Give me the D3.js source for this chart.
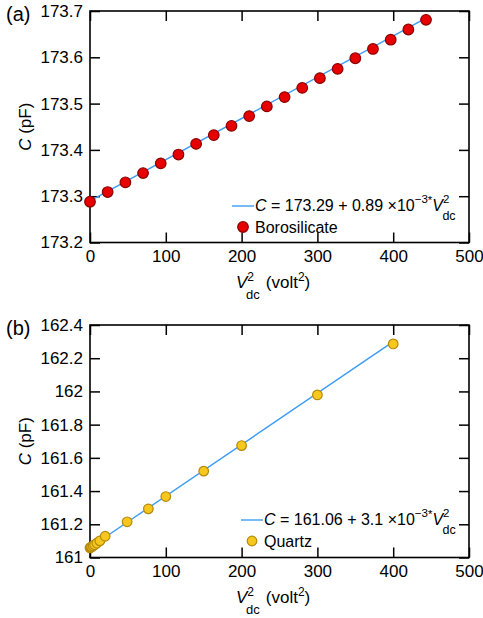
<!DOCTYPE html>
<html>
<head>
<meta charset="utf-8">
<script src="https://cdn.jsdelivr.net/npm/d3@7"></script>
<style>
  body { margin: 0; background: #fff; }
  svg { display: block; font-family: "Liberation Sans", Arial, Helvetica, sans-serif; }
</style>
</head>
<body>
<script>
'use strict';

// panel (a): borosilicate
const boroV2 = [0, 23.3, 46.7, 70, 93.3, 116.7, 140, 163.3, 186.7, 210, 233.3, 256.7,
  280, 303.3, 326.7, 350, 373.3, 396.7, 420, 443.3];
const boroC = [173.288, 173.309, 173.330, 173.350, 173.371, 173.390, 173.413, 173.432,
  173.452, 173.473, 173.494, 173.514, 173.534, 173.555, 173.575, 173.598, 173.618,
  173.638, 173.660, 173.681];
const boroFit = { a: 173.29, b: 0.89e-3, xMax: 445 };
const boroYTicks = [173.2, 173.3, 173.4, 173.5, 173.6, 173.7];

// panel (b): quartz
const quartzV2 = [0, 1, 2, 4, 6, 9, 13, 20, 49, 77, 100, 150, 200, 300, 400];
const quartzC = [161.058, 161.061, 161.064, 161.070, 161.077, 161.086, 161.100, 161.128,
  161.215, 161.293, 161.367, 161.520, 161.674, 161.979, 162.286];
const quartzFit = { a: 161.06, b: 3.1e-3, xMax: 402 };
const quartzYTicks = [161, 161.2, 161.4, 161.6, 161.8, 162, 162.2, 162.4];

const xTicks = [0, 100, 200, 300, 400, 500];

const svg = d3.select('body').append('svg')
  .attr('width', 483)
  .attr('height', 618);

drawPanel({
  letter: '(a)', top: 11, bottom: 242.5,
  yDomain: [173.2, 173.7], yTicks: boroYTicks,
  xs: boroV2, ys: boroC, fit: boroFit,
  fill: '#e60000', stroke: '#8a0000', r: 5.3,
  eq: '173.29 + 0.89', name: 'Borosilicate',
  legX: 232, legY: 206
});

drawPanel({
  letter: '(b)', top: 325, bottom: 557.5,
  yDomain: [161, 162.4], yTicks: quartzYTicks,
  xs: quartzV2, ys: quartzC, fit: quartzFit,
  fill: '#f6c81e', stroke: '#b58a0a', r: 4.8,
  eq: '161.06 + 3.1', name: 'Quartz',
  legX: 241, legY: 520
});

function drawPanel(p) {
  const left = 90, right = 469;

  let x = d3.scaleLinear().domain([0, 500]).range([left, right]);
  let y = d3.scaleLinear().domain(p.yDomain).range([p.bottom, p.top]);

  let g = svg.append('g');

  // axes with inward ticks on all four sides
  g.append('g')
    .attr('transform', 'translate(0,' + p.bottom + ')')
    .call(d3.axisBottom(x).tickValues(xTicks).tickSizeInner(-10).tickSizeOuter(0).tickPadding(7));
  g.append('g')
    .attr('transform', 'translate(' + left + ',0)')
    .call(d3.axisLeft(y).tickValues(p.yTicks).tickFormat(d3.format('')).tickSizeInner(-10).tickSizeOuter(0).tickPadding(7));
  g.append('g')
    .attr('transform', 'translate(0,' + p.top + ')')
    .call(d3.axisTop(x).tickValues(xTicks).tickSizeInner(-10).tickSizeOuter(0).tickFormat(''));
  g.append('g')
    .attr('transform', 'translate(' + right + ',0)')
    .call(d3.axisRight(y).tickValues(p.yTicks).tickSizeInner(-10).tickSizeOuter(0).tickFormat(''));

  g.selectAll('.domain').remove();
  g.selectAll('.tick line').attr('stroke', '#000').attr('stroke-width', 1.5);
  g.selectAll('.tick text')
    .attr('fill', '#000')
    .style('font-size', '17px')
    .style('font-family', '"Liberation Sans", Arial, sans-serif');

  // frame
  g.append('rect')
    .attr('x', left)
    .attr('y', p.top)
    .attr('width', right - left)
    .attr('height', p.bottom - p.top)
    .attr('fill', 'none')
    .attr('stroke', '#000')
    .attr('stroke-width', 1.6);

  // fit line
  g.append('line')
    .attr('x1', x(0))
    .attr('y1', y(p.fit.a))
    .attr('x2', x(p.fit.xMax))
    .attr('y2', y(p.fit.a + p.fit.b * p.fit.xMax))
    .attr('stroke', '#3d9cf5')
    .attr('stroke-width', 1.4);

  // data points
  g.selectAll('.pt')
    .data(p.xs)
    .enter()
    .append('circle')
    .attr('class', 'pt')
    .attr('cx', (d) => x(d))
    .attr('cy', (d, i) => y(p.ys[i]))
    .attr('r', p.r)
    .attr('fill', p.fill)
    .attr('stroke', p.stroke)
    .attr('stroke-width', 1.2);

  // panel letter
  g.append('text')
    .attr('x', 6)
    .attr('y', p.top + 10)
    .style('font-size', '20px')
    .text(p.letter);

  // y label
  let yl = g.append('text')
    .attr('transform', 'translate(31,' + ((p.top + p.bottom) / 2) + ')rotate(-90)')
    .attr('text-anchor', 'middle')
    .style('font-size', '17px');
  yl.append('tspan').style('font-style', 'italic').text('C');
  yl.append('tspan').text(' (pF)');

  // x label
  let xl = g.append('text')
    .attr('x', 236)
    .attr('y', p.bottom + 45.5)
    .style('font-size', '17px');
  xl.append('tspan').style('font-style', 'italic').text('V');
  xl.append('tspan').attr('dy', -7).style('font-size', '12px').text('2');
  xl.append('tspan').attr('dx', -8).attr('dy', 18).style('font-size', '13px').text('dc');
  xl.append('tspan').attr('dx', 6).attr('dy', -11).text('(volt');
  xl.append('tspan').attr('dy', -7).style('font-size', '12px').text('2');
  xl.append('tspan').attr('dy', 7).text(')');

  // legend: fit line entry
  g.append('line')
    .attr('x1', p.legX)
    .attr('x2', p.legX + 22)
    .attr('y1', p.legY)
    .attr('y2', p.legY)
    .attr('stroke', '#3d9cf5')
    .attr('stroke-width', 1.4);

  let eq = g.append('text')
    .attr('x', p.legX + 23)
    .attr('y', p.legY + 5)
    .style('font-size', '16px');
  eq.append('tspan').style('font-style', 'italic').text('C');
  eq.append('tspan').text(' = ' + p.eq + ' \u00d710');
  eq.append('tspan').attr('dy', -8).style('font-size', '11.5px').text('\u22123');
  eq.append('tspan').attr('dy', 1).style('font-size', '11.5px').text('*');
  eq.append('tspan').attr('dy', 7).style('font-style', 'italic').text('V');
  eq.append('tspan').attr('dy', -8).style('font-size', '11.5px').text('2');
  eq.append('tspan').attr('dx', -7).attr('dy', 17).style('font-size', '12.5px').text('dc');

  // legend: points entry
  g.append('circle')
    .attr('cx', p.legX + 11)
    .attr('cy', p.legY + 21)
    .attr('r', p.r)
    .attr('fill', p.fill)
    .attr('stroke', p.stroke)
    .attr('stroke-width', 1.2);

  g.append('text')
    .attr('x', p.legX + 23)
    .attr('y', p.legY + 26.5)
    .style('font-size', '16px')
    .text(p.name);
}
</script>
</body>
</html>
